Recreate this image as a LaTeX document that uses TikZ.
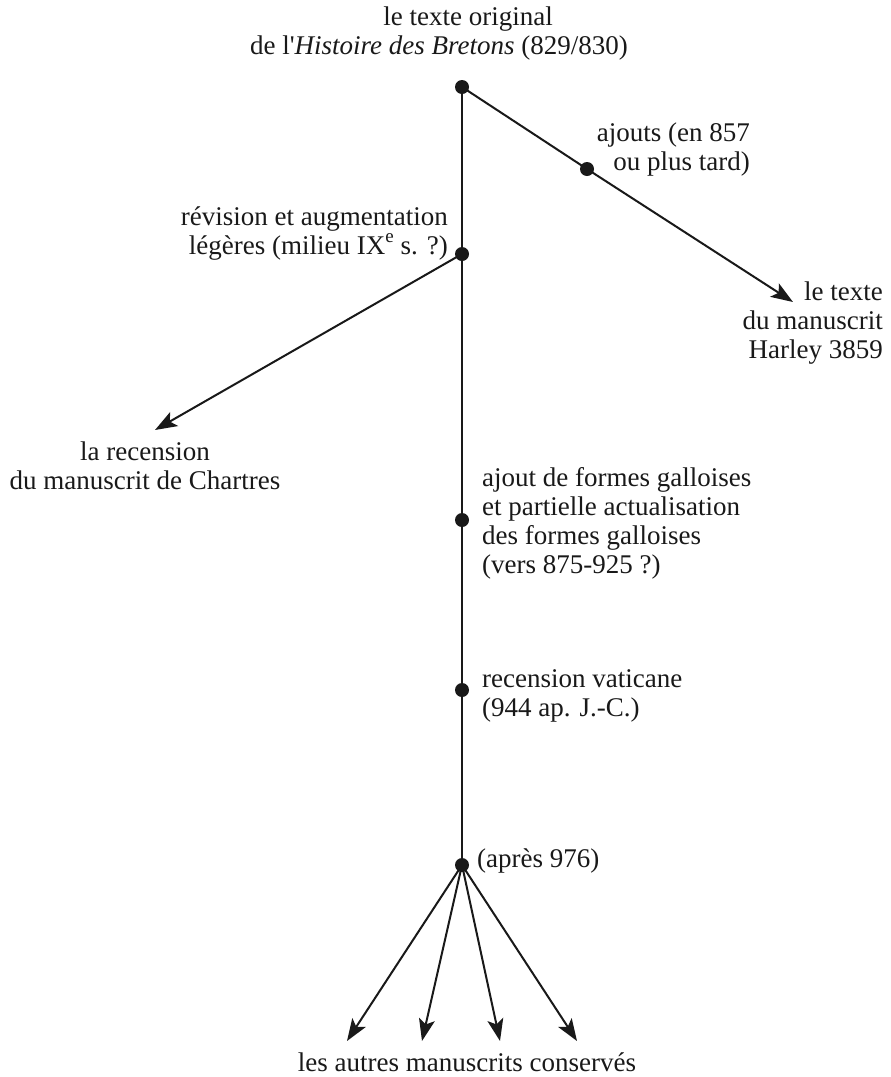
\documentclass[tikz,border=0pt]{standalone}
\usepackage{fontspec}
\setmainfont{Liberation Serif}[Ligatures=TeXOff]
\usetikzlibrary{arrows.meta}
\newcommand{\supe}{\raisebox{0.42em}{\fontsize{19}{19}\selectfont e}}
\begin{document}
\begin{tikzpicture}[x=1pt,y=-1pt,
  every node/.style={font=\fontsize{27}{29}\selectfont, inner sep=0pt},
  dot/.style={circle, fill=black!90, minimum size=14pt, inner sep=0pt},
  conn/.style={line width=2pt, draw=black!90},
  arr/.style={conn, -{Stealth[length=22pt, width=16pt, inset=5pt]}},
  lbl/.style={text=black!90}]
\useasboundingbox (0,0) rectangle (891,1077);
% dots
\node[dot] (d0) at (462,87) {};
\node[dot] (p) at (587,169) {};
\node[dot] (d1) at (462,254) {};
\node[dot] (d2) at (462,520) {};
\node[dot] (d3) at (462,690) {};
\node[dot] (d4) at (462,865) {};
% free ends
\coordinate (harley) at (793,302);
\coordinate (chartres) at (155,430);
\coordinate (m1) at (347,1041);
\coordinate (m2) at (422,1041);
\coordinate (m3) at (500,1041);
\coordinate (m4) at (577,1041);
% connectors
\draw[conn] (d0.center) -- (d1.center) -- (d2.center) -- (d3.center) -- (d4.center);
\draw[conn] (d0.center) -- (p.center);
\draw[arr] (p.center) -- (harley);
\draw[arr] (d1.center) -- (chartres);
\draw[arr] (d4.center) -- (m1);
\draw[arr] (d4.center) -- (m2);
\draw[arr] (d4.center) -- (m3);
\draw[arr] (d4.center) -- (m4);
% labels (anchor base = baseline of the last line)
\node[lbl, anchor=base, align=center] (t0) at (439,54) {\hspace*{58pt}le texte original\\de l'\textit{Histoire des Bretons} (829/830)};
\node[lbl, anchor=base east, align=right] (t1) at (750,170) {ajouts (en 857\\ou plus tard)};
\node[lbl, anchor=base east, align=right] (t2) at (448,254) {révision et augmentation\\légères (milieu IX\supe{} s. ?)};
\node[lbl, anchor=base east, align=right] (t3) at (883,358) {le texte\\du manuscrit\\Harley 3859};
\node[lbl, anchor=base, align=center] (t4) at (145,489) {la recension\\du manuscrit de Chartres};
\node[lbl, anchor=base west, align=left] (t5) at (482,573) {ajout de formes galloises\\et partielle actualisation\\des formes galloises\\(vers 875-925 ?)};
\node[lbl, anchor=base west, align=left] (t6) at (482,716) {recension vaticane\\(944 ap. J.-C.)};
\node[lbl, anchor=base west] (t7) at (477,867) {(après 976)};
\node[lbl, anchor=base] (t8) at (467,1071) {les autres manuscrits conservés};
\end{tikzpicture}
\end{document}
